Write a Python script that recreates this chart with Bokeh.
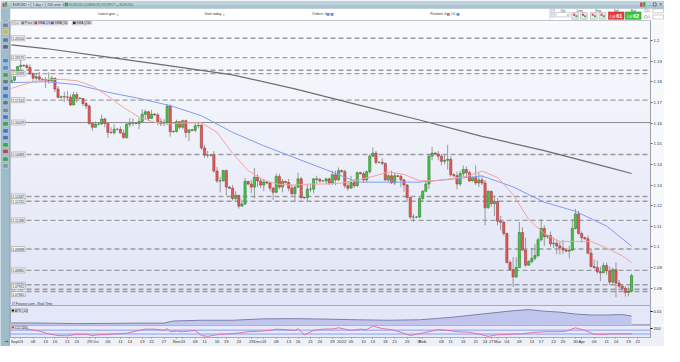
import numpy as np
import pandas as pd
from bokeh.plotting import figure
from bokeh.layouts import column, row
from bokeh.models import Range1d, FixedTicker, Span, Label, ColumnDataSource
from bokeh.embed import file_html
from bokeh.resources import INLINE
from bokeh.core.properties import value

FONT = "Liberation Sans"

# ---------------- data (EUR/USD, 1 day, Sunday candles included) ----------------
FIRST_OPEN = 1.1797
CLOSE = [
    1.1808, 1.1838, 1.1874, 1.1880,
    1.1878, 1.1870, 1.1840, 1.1818, 1.1825, 1.1813,
    1.1812, 1.1808, 1.1805, 1.1818, 1.1765, 1.1725,
    1.1728, 1.1727, 1.1726, 1.1688, 1.1738, 1.1720,
    1.1720, 1.1695, 1.1683, 1.1598, 1.1580, 1.1595,
    1.1596, 1.1620, 1.1598, 1.1555, 1.1553, 1.1570,
    1.1570, 1.1552, 1.1530, 1.1595, 1.1600, 1.1600,
    1.1598, 1.1608, 1.1643, 1.1655, 1.1623, 1.1644,
    1.1640, 1.1607, 1.1597, 1.1605, 1.1682, 1.1558,
    1.1560, 1.1607, 1.1580, 1.1612, 1.1555, 1.1568,
    1.1565, 1.1587, 1.1590, 1.1480, 1.1445, 1.1444,
    1.1445, 1.1368, 1.1320, 1.1320, 1.1370, 1.1290,
    1.1285, 1.1235, 1.1250, 1.1198, 1.1208, 1.1318,
    1.1305, 1.1290, 1.1338, 1.1320, 1.1300, 1.1315,
    1.1310, 1.1285, 1.1265, 1.1342, 1.1290, 1.1318,
    1.1312, 1.1285, 1.1258, 1.1290, 1.1330, 1.1238,
    1.1240, 1.1280, 1.1280, 1.1330, 1.1327, 1.1320,
    1.1320, 1.1330, 1.1310, 1.1350, 1.1325, 1.1370,
    1.1365, 1.1297, 1.1285, 1.1312, 1.1297, 1.1360,
    1.1355, 1.1325, 1.1365, 1.1440, 1.1455, 1.1410,
    1.1410, 1.1405, 1.1325, 1.1345, 1.1310, 1.1345,
    1.1342, 1.1325, 1.1300, 1.1240, 1.1145, 1.1145,
    1.1145, 1.1235, 1.1270, 1.1305, 1.1440, 1.1455,
    1.1450, 1.1440, 1.1415, 1.1420, 1.1425, 1.1350,
    1.1345, 1.1305, 1.1355, 1.1375, 1.1360, 1.1320,
    1.1335, 1.1310, 1.1325, 1.1310, 1.1190, 1.1270,
    1.1210, 1.1220, 1.1125, 1.1120, 1.1065, 1.0925,
    1.0890, 1.0855, 1.0900, 1.1070, 1.0985, 1.0912,
    1.0930, 1.0945, 1.0958, 1.1035, 1.1090, 1.1050,
    1.1055, 1.1015, 1.1018, 1.1005, 1.0995, 1.0985,
    1.0980, 1.0985, 1.1090, 1.1160, 1.1065, 1.1045,
    1.1040, 1.0970, 1.0905, 1.0900, 1.0880, 1.0875,
    1.0910, 1.0885, 1.0830, 1.0890, 1.0825, 1.0810,
    1.0800, 1.0780, 1.0785, 1.0861,
]
HIGH = [
    1.1842, 1.1857, 1.1877, 1.1909,
    1.1884, 1.1888, 1.1885, 1.1845, 1.1845, 1.1848,
    1.1818, 1.1823, 1.1846, 1.1830, 1.1820, 1.1780,
    1.1733, 1.1752, 1.1755, 1.1740, 1.1752, 1.1750,
    1.1726, 1.1719, 1.1705, 1.1690, 1.1605, 1.1608,
    1.1600, 1.1641, 1.1626, 1.1605, 1.1580, 1.1595,
    1.1575, 1.1583, 1.1570, 1.1600, 1.1624, 1.1623,
    1.1605, 1.1625, 1.1668, 1.1666, 1.1660, 1.1665,
    1.1648, 1.1650, 1.1625, 1.1620, 1.1693, 1.1690,
    1.1565, 1.1616, 1.1610, 1.1617, 1.1617, 1.1570,
    1.1572, 1.1600, 1.1608, 1.1595, 1.1495, 1.1465,
    1.1450, 1.1464, 1.1388, 1.1340, 1.1374, 1.1375,
    1.1295, 1.1300, 1.1270, 1.1250, 1.1230, 1.1335,
    1.1320, 1.1325, 1.1383, 1.1352, 1.1335, 1.1330,
    1.1318, 1.1316, 1.1290, 1.1355, 1.1355, 1.1330,
    1.1320, 1.1330, 1.1300, 1.1300, 1.1360, 1.1340,
    1.1245, 1.1305, 1.1305, 1.1335, 1.1345, 1.1335,
    1.1325, 1.1335, 1.1335, 1.1370, 1.1370, 1.1385,
    1.1375, 1.1375, 1.1320, 1.1345, 1.1330, 1.1365,
    1.1365, 1.1365, 1.1370, 1.1450, 1.1482, 1.1465,
    1.1415, 1.1430, 1.1410, 1.1355, 1.1370, 1.1360,
    1.1348, 1.1350, 1.1330, 1.1305, 1.1240, 1.1160,
    1.1150, 1.1240, 1.1275, 1.1315, 1.1450, 1.1485,
    1.1460, 1.1465, 1.1450, 1.1450, 1.1495, 1.1440,
    1.1358, 1.1365, 1.1370, 1.1395, 1.1390, 1.1370,
    1.1340, 1.1395, 1.1360, 1.1345, 1.1325, 1.1275,
    1.1272, 1.1250, 1.1235, 1.1150, 1.1125, 1.1070,
    1.0935, 1.0950, 1.0950, 1.1121, 1.1095, 1.1045,
    1.0935, 1.0995, 1.1015, 1.1045, 1.1135, 1.1105,
    1.1060, 1.1075, 1.1045, 1.1035, 1.1025, 1.1035,
    1.0990, 1.1005, 1.1135, 1.1185, 1.1175, 1.1075,
    1.1050, 1.1055, 1.0990, 1.0940, 1.0935, 1.0905,
    1.0925, 1.0925, 1.0905, 1.0900, 1.0925, 1.0840,
    1.0815, 1.0810, 1.0805, 1.0870,
]
LOW = [
    1.1794, 1.1800, 1.1835, 1.1858,
    1.1872, 1.1860, 1.1832, 1.1802, 1.1805, 1.1802,
    1.1806, 1.1770, 1.1792, 1.1800, 1.1750, 1.1720,
    1.1720, 1.1702, 1.1714, 1.1683, 1.1690, 1.1700,
    1.1716, 1.1681, 1.1668, 1.1593, 1.1563, 1.1580,
    1.1590, 1.1591, 1.1580, 1.1529, 1.1550, 1.1545,
    1.1565, 1.1550, 1.1524, 1.1525, 1.1580, 1.1585,
    1.1595, 1.1571, 1.1600, 1.1618, 1.1610, 1.1620,
    1.1636, 1.1590, 1.1585, 1.1585, 1.1590, 1.1535,
    1.1553, 1.1555, 1.1570, 1.1570, 1.1529, 1.1513,
    1.1560, 1.1555, 1.1575, 1.1470, 1.1432, 1.1432,
    1.1438, 1.1360, 1.1310, 1.1264, 1.1318, 1.1250,
    1.1280, 1.1225, 1.1226, 1.1186, 1.1195, 1.1205,
    1.1300, 1.1260, 1.1235, 1.1290, 1.1285, 1.1270,
    1.1305, 1.1270, 1.1228, 1.1260, 1.1280, 1.1265,
    1.1308, 1.1270, 1.1250, 1.1222, 1.1285, 1.1235,
    1.1232, 1.1220, 1.1265, 1.1260, 1.1305, 1.1310,
    1.1315, 1.1305, 1.1300, 1.1300, 1.1300, 1.1320,
    1.1360, 1.1285, 1.1272, 1.1285, 1.1285, 1.1290,
    1.1352, 1.1310, 1.1315, 1.1355, 1.1435, 1.1400,
    1.1405, 1.1395, 1.1320, 1.1315, 1.1305, 1.1300,
    1.1338, 1.1290, 1.1265, 1.1225, 1.1135, 1.1121,
    1.1140, 1.1140, 1.1220, 1.1265, 1.1280, 1.1420,
    1.1448, 1.1420, 1.1395, 1.1400, 1.1375, 1.1340,
    1.1340, 1.1280, 1.1295, 1.1340, 1.1340, 1.1315,
    1.1318, 1.1300, 1.1290, 1.1300, 1.1105, 1.1185,
    1.1195, 1.1150, 1.1105, 1.1080, 1.1055, 1.0920,
    1.0885, 1.0806, 1.0850, 1.0900, 1.0980, 1.0905,
    1.0910, 1.0920, 1.0935, 1.0950, 1.1025, 1.1005,
    1.1040, 1.1000, 1.0995, 1.0965, 1.0963, 1.0965,
    1.0975, 1.0945, 1.0980, 1.1085, 1.1060, 1.1020,
    1.1035, 1.0965, 1.0900, 1.0895, 1.0870, 1.0835,
    1.0875, 1.0865, 1.0815, 1.0820, 1.0757, 1.0800,
    1.0795, 1.0760, 1.0760, 1.0780,
]

# moving averages at candle indices
SMA20_IDX = [-1, 5, 10, 15, 20, 25, 30, 35, 40, 45, 50, 55, 60, 65, 70, 75, 80, 85, 90, 95, 100,
             105, 110, 115, 120, 125, 130, 135, 140, 145, 150, 155, 160, 165, 170, 175, 180, 185,
             190, 195, 198]
SMA20 = [1.17683, 1.17961, 1.18100, 1.18123, 1.18054, 1.17799, 1.17312, 1.16756, 1.16293, 1.16038,
         1.15968, 1.16015, 1.16015, 1.15552, 1.14532, 1.13698, 1.13235, 1.13026, 1.13003, 1.13049,
         1.13049, 1.13096, 1.13235, 1.13420, 1.13628, 1.13513, 1.13211, 1.13211, 1.13304, 1.13420,
         1.13675, 1.13373, 1.12539, 1.11335, 1.10640, 1.10269, 1.10269, 1.10269, 1.09944, 1.09574,
         1.09249]
SMA50_IDX = [-1, 10, 20, 30, 40, 50, 60, 70, 80, 90, 100, 110, 120, 130, 140, 150, 160, 170, 180, 190, 198]
SMA50 = [1.17961, 1.18007, 1.17868, 1.17498, 1.17197, 1.16849, 1.16358, 1.15552, 1.14903, 1.14319,
         1.13744, 1.13142, 1.13142, 1.13142, 1.13281, 1.13443, 1.12910, 1.12169, 1.11729, 1.11010,
         1.10037]
SMA200_IDX = [-1, 10, 30, 50, 70, 90, 110, 130, 150, 170, 190, 198]
SMA200 = [1.19791, 1.19615, 1.19194, 1.18777, 1.18336, 1.17660, 1.16895, 1.16154, 1.15361, 1.14671,
          1.13883, 1.13559]

# ATR (14) panel
ATR_IDX = [-1, 10, 20, 30, 40, 48, 51, 60, 70, 80, 90, 100, 110, 120, 130, 140, 150, 160, 165, 170,
           175, 180, 185, 190, 195, 198]
ATR = [0.00311, 0.00300, 0.00272, 0.00283, 0.00300, 0.00300, 0.00425, 0.00468, 0.00468, 0.00552,
       0.00563, 0.00535, 0.00496, 0.00468, 0.00496, 0.00636, 0.00832, 0.01028, 0.01095, 0.01000,
       0.00944, 0.00832, 0.00776, 0.00776, 0.00804, 0.00720]

# CCI (20) panel
CCI_IDX = [-1, 2, 5, 8, 11, 14, 17, 20, 23, 25, 27, 30, 33, 36, 39, 42, 45, 48, 49, 50, 52, 54, 58,
           60, 62, 66, 69, 72, 75, 79, 82, 84, 87, 90, 91, 93, 96, 99, 102, 104, 108, 111, 113, 115,
           118, 121, 124, 127, 129, 133, 136, 139, 142, 146, 150, 152, 155, 159, 163, 167, 171, 175,
           177, 180, 183, 186, 189, 192, 194, 198]
CCI = [288, 260, 128, 48, -88, -180, -192, -112, -112, -180, -140, -112, -88, -60, 48, 152, 152, 88,
       180, 20, 48, 20, 88, -180, -220, -112, -88, -48, 20, 48, 88, 152, 128, 88, 180, -140, 88, 152,
       160, 220, 88, 152, 128, 312, 180, 128, -8, -180, -112, 20, 128, 88, 20, -8, -140, -220, -140,
       -112, -88, -8, 20, 20, 48, 220, 88, -112, -112, -88, -88, -88.5]

# horizontal support / resistance levels
LEVELS = [1.20114, 1.19175, 1.18565, 1.18399, 1.17113, 1.16029, 1.14483, 1.12447, 1.12215,
          1.11288, 1.09898, 1.08865, 1.08170, 1.07952, 1.07845]
LEVEL_SOLID = [False, False, False, False, False, True, False, False, False,
               False, False, False, False, False, False]
LEVEL_LABELS = ["1.20114", "1.19175", "", "1.18399", "1.17113", "1.16029", "1.14483", "1.12447",
                "1.12215", "1.11288", "1.09898", "1.08865", "1.08170", "1.07952", "1.07845"]

# axis ticks
Y_TICKS = [1.08, 1.09, 1.10, 1.11, 1.12, 1.13, 1.14, 1.15, 1.16, 1.17, 1.18, 1.19, 1.20]
Y_TICK_LABELS = ["1.08", "1.09", "1.1", "1.11", "1.12", "1.13", "1.14", "1.15", "1.16", "1.17",
                 "1.18", "1.19", "1.2"]
X_TICK_DATES = ["2021-09-01", "2021-09-03", "2021-09-08", "2021-09-13", "2021-09-16", "2021-09-21",
                "2021-09-24", "2021-09-29",
                "2021-10-01", "2021-10-06", "2021-10-11", "2021-10-14", "2021-10-19", "2021-10-22",
                "2021-10-27",
                "2021-11-01", "2021-11-03", "2021-11-08", "2021-11-11", "2021-11-16", "2021-11-19",
                "2021-11-24", "2021-11-29",
                "2021-12-01", "2021-12-03", "2021-12-08", "2021-12-13", "2021-12-16", "2021-12-21",
                "2021-12-24", "2021-12-29",
                "2022-01-02", "2022-01-05", "2022-01-10", "2022-01-13", "2022-01-18", "2022-01-21",
                "2022-01-26", "2022-01-31",
                "2022-02-01", "2022-02-08", "2022-02-11", "2022-02-16", "2022-02-21", "2022-02-24",
                "2022-02-27",
                "2022-03-01", "2022-03-04", "2022-03-09", "2022-03-14", "2022-03-17", "2022-03-22",
                "2022-03-25", "2022-03-30",
                "2022-04-01", "2022-04-06", "2022-04-11", "2022-04-14", "2022-04-19", "2022-04-22"]
X_TICK_LABELS = ["Sep", "03", "08", "13", "16", "21", "24", "29",
                 "Oct", "06", "11", "14", "19", "22", "27",
                 "Nov", "03", "08", "11", "16", "19", "24", "29",
                 "Dec", "03", "08", "13", "16", "21", "24", "29",
                 "2022", "05", "10", "13", "18", "21", "26", "31",
                 "Feb", "08", "11", "16", "21", "24", "27",
                 "Mar", "04", "09", "14", "17", "22", "25", "30",
                 "Apr", "06", "11", "14", "19", "22"]

# ---------------- geometry helpers (reference pixel -> data) ----------------
def XI(px):
    return (px - 14.0) / 3.19

def YP(py):
    return 1.2 - (py - 42.0) / 2158.0

def YA(py):
    return 0.01 - (py - 325.0) / 1786.0

def YC(py):
    return (348.5 - py) * 40.0

# candle index: calendar without Saturdays, first candle = Aug 31 -> index -1
AXIS_DATES = [d for d in pd.date_range("2021-08-31", "2022-04-30", freq="D") if d.weekday() != 5]
POS = {d.strftime("%Y-%m-%d"): k - 1 for k, d in enumerate(AXIS_DATES)}

GREEN, GREEN_EDGE = "#46c646", "#2b7f2b"
RED, RED_EDGE = "#e25a5a", "#a53a3a"
WICK = "#8f8f8f"


def txt(fig, x, y, s, size, color="#333333", align="left", baseline="middle", style="normal"):
    fig.text(x=[x], y=[y], text=[s], text_font=value(FONT), text_font_size=size,
             text_color=color, text_align=align, text_baseline=baseline, text_font_style=style)


def box(fig, l, r, t, b, fill, line=None, lw=0.5):
    fig.quad(left=[l], right=[r], top=[t], bottom=[b], fill_color=fill,
             line_color=line, line_width=lw)


def bare(fig):
    fig.grid.visible = False
    fig.outline_line_color = None


# ---------------- header (title bar + order bar) ----------------
hdr = figure(width=664, height=20, x_range=Range1d(0, 680), y_range=Range1d(21, 0),
             output_backend="svg", toolbar_location=None, x_axis_location=None,
             y_axis_location=None, min_border=0)
bare(hdr)
hdr.background_fill_color = "#ffffff"
hdr.border_fill_color = "#ffffff"
box(hdr, 0, 680, 0, 4, "#bfd3de")
box(hdr, 0, 680, 4, 8.2, "#acc5d3")
hdr.line(x=[0, 680], y=[8.2, 8.2], line_color="#8ea9b9", line_width=0.6)
box(hdr, 0, 10, 8.2, 21, "#9fbccb")
hdr.line(x=[10, 680], y=[20.8, 20.8], line_color="#c9ced8", line_width=0.6)
# app icon
box(hdr, 2.2, 4.2, 2.5, 6.5, "#d94040")
box(hdr, 4.8, 6.8, 1.5, 6.5, "#3cb043")
# tabs
for (x0, x1, s) in [(11, 30.5, "EURUSD  \u00d7"), (31.5, 45.5, "1 day  \u00d7"),
                    (46.5, 64.5, "200 units  \u00d7")]:
    box(hdr, x0, x1, 1.4, 6.9, "#d2e0e8", "#8aa3b3", 0.5)
    txt(hdr, x0 + 1.5, 4.2, s, "3.3px", "#223")
box(hdr, 66, 69, 2.6, 5.6, "#3cb043", "#2a7a2a", 0.4)
txt(hdr, 70.5, 4.2, "EURUSD (US$/EUR)  FX/SPOT  \u25b8 EURUSD", "3.3px", "#2d8a2d")
# window buttons
box(hdr, 655, 657.5, 2, 6.5, "#d94040")
box(hdr, 658, 660.5, 1.5, 6.5, "#3cb043")
txt(hdr, 665, 4.2, "\u2013", "4px", "#334", "center")
box(hdr, 668.5, 671.5, 2.5, 5.8, None, "#334", 0.5)
txt(hdr, 676, 4.2, "\u00d7", "4.5px", "#334", "center")
# order bar texts
txt(hdr, 100, 14.5, "Latest gain", "3.5px", "#333")
txt(hdr, 119, 14.5, "\u25be", "3px", "#666")
txt(hdr, 209, 14.5, "Gain today", "3.5px", "#333")
txt(hdr, 228, 14.5, "\u25be", "3px", "#666")
txt(hdr, 319, 14.5, "Orders: 0", "3.5px", "#333")
box(hdr, 334, 337, 13, 16, "#5b8fd6")
box(hdr, 338, 341, 13, 16, "#5b8fd6")
txt(hdr, 440, 14.5, "Position: 0", "3.5px", "#333")
box(hdr, 457, 460, 13, 16, "#e06a6a")
txt(hdr, 461.5, 14.5, "/ 0", "3.5px", "#333")
box(hdr, 467, 470, 13, 16, "#5b8fd6")
# trade ticket
hdr.line(x=[562.5, 562.5], y=[8.5, 20.5], line_color="#c6cad2", line_width=0.6)
box(hdr, 563.5, 567.5, 9.5, 13, "#e8eaee", "#9aa0aa", 0.4)
box(hdr, 563.5, 567.5, 14, 17.5, "#e8eaee", "#9aa0aa", 0.4)
txt(hdr, 576, 10.3, "Qty", "3px", "#444", "center")
box(hdr, 569, 583, 12.6, 17.2, "#ffffff", "#9aa0aa", 0.5)
txt(hdr, 581.5, 15, "\u25be", "2.8px", "#555", "center")
txt(hdr, 593, 10.3, "Limit", "3px", "#444", "center")
txt(hdr, 612, 10.3, "Stop", "3px", "#444", "center")
for x0 in (585, 594, 604, 613):
    box(hdr, x0, x0 + 7, 12.6, 19.6, "#e4e7ec", "#a0a5ae", 0.5)
    box(hdr, x0 + 1.5, x0 + 3.5, 14, 16, "#d94040")
    box(hdr, x0 + 3.8, x0 + 5.8, 15.5, 17.5, "#3cb043")
txt(hdr, 630.5, 10.3, "Sell", "3px", "#444", "center")
txt(hdr, 648, 10.3, "Buy", "3px", "#444", "center")
box(hdr, 622.5, 638.5, 12, 19.8, "#e5403d", "#b02a28", 0.5)
txt(hdr, 624, 16.8, "1.08", "2.8px", "#ffffff")
txt(hdr, 630.5, 16, "61", "5.5px", "#ffffff", style="bold")
box(hdr, 639.8, 656, 12, 19.8, "#3fc33f", "#2a8a2a", 0.5)
txt(hdr, 641.3, 16.8, "1.08", "2.8px", "#ffffff")
txt(hdr, 647.8, 16, "62", "5.5px", "#ffffff", style="bold")
hdr.scatter(x=[661, 661], y=[10.5, 17.3], size=3, marker="circle", fill_color="#ffffff",
            line_color="#778", line_width=0.5)
txt(hdr, 663.5, 10.5, "L", "3px", "#333")
txt(hdr, 663.5, 17.3, "L", "3px", "#333")
box(hdr, 668, 679, 8.8, 13, "#ffffff", "#9aa0aa", 0.5)
box(hdr, 668, 679, 15.2, 19.5, "#ffffff", "#9aa0aa", 0.5)

# ---------------- left tool strip ----------------
ICON_Y = [14, 19.5, 26, 33, 41.5, 48.5, 63, 70.5, 78, 85, 92, 100, 107, 115, 122, 129, 136.5,
          143.5, 151, 158, 166, 173]
ICON_COLORS = ["#5a6e80", "#3a66c0", "#6b7884", "#e0b21e", "#5e6e7e", "#4d6070", "#3a7ad0",
               "#4a80c8", "#3c9c3c", "#5e6e7e", "#3a66c0", "#2c6cd0", "#5e6e7e", "#6f7f90",
               "#3a66c0", "#2f9f2f", "#3a66c0", "#3a66c0", "#2f9f2f", "#c03434", "#2f9f2f",
               "#7f8fa0"]
tb = figure(width=10, height=326, x_range=Range1d(0, 10), y_range=Range1d(362, 21),
            output_backend="svg", toolbar_location=None, x_axis_location=None,
            y_axis_location=None, min_border=0)
bare(tb)
tb.background_fill_color = "#9fbccb"
tb.border_fill_color = "#9fbccb"
tb.line(x=[9.6, 9.6], y=[21, 362], line_color="#7e9bac", line_width=0.8)
tb.rect(x=[5] * len(ICON_Y), y=ICON_Y, width=5.5, height=4.5, fill_color=ICON_COLORS,
        fill_alpha=0.85, line_color="#e8f0f4", line_width=0.4)
txt(tb, 5, 356, "\u22a3", "5px", "#334", "center")

# ---------------- main price panel ----------------
xr = Range1d(XI(10), XI(665))
main = figure(width=654, height=285, x_range=xr, y_range=Range1d(YP(319), YP(21)),
              output_backend="svg", toolbar_location=None, x_axis_location=None,
              y_axis_location="right", min_border=0, min_border_right=14)
main.grid.visible = False
main.outline_line_color = "#aeb2bf"
main.border_fill_color = "#f7f8fc"
main.background_fill_color = "#eef0fa"

# subtle vertical background gradient
N = 96
img = np.empty((N, 1), dtype=np.uint32)
view = img.view(dtype=np.uint8).reshape((N, 1, 4))
c_bot = np.array([225, 229, 246], dtype=float)
c_top = np.array([249, 250, 254], dtype=float)
for k in range(N):
    t = k / (N - 1)
    view[k, 0, :3] = (c_bot * (1 - t) + c_top * t).astype(np.uint8)
    view[k, 0, 3] = 255
main.image_rgba(image=[img], x=xr.start, y=YP(319), dw=xr.end - xr.start,
                dh=YP(21) - YP(319), level="image")

for lv, solid in zip(LEVELS, LEVEL_SOLID):
    if solid:
        main.add_layout(Span(location=lv, dimension="width", line_color="#8d8d8d",
                             line_width=1.0, level="underlay"))
    else:
        main.add_layout(Span(location=lv, dimension="width", line_color="#9c9c9c",
                             line_width=1.4, line_dash="5 3", level="underlay"))

idx = np.arange(len(CLOSE)) - 1
o = np.array([FIRST_OPEN] + CLOSE[:-1])
c = np.array(CLOSE)
up = c >= o
src = ColumnDataSource(dict(
    x=idx, top=np.maximum(o, c), bottom=np.minimum(o, c), h=np.array(HIGH), l=np.array(LOW),
    fill=np.where(up, GREEN, RED), edge=np.where(up, GREEN_EDGE, RED_EDGE)))
main.segment(x0="x", y0="h", x1="x", y1="l", source=src, line_color=WICK, line_width=0.9)
main.vbar(x="x", top="top", bottom="bottom", width=0.7, fill_color="fill", line_color="edge",
          line_width=0.6, source=src)

main.line(SMA200_IDX, SMA200, line_color="#6e6e6e", line_width=1.2)
main.line(SMA50_IDX, SMA50, line_color="#7f9cf2", line_width=1.0)
main.line(SMA20_IDX, SMA20, line_color="#f1a3a0", line_width=1.0)

ax = main.yaxis[0]
ax.ticker = FixedTicker(ticks=Y_TICKS)
ax.major_label_overrides = {t: s for t, s in zip(Y_TICKS, Y_TICK_LABELS)}
ax.major_label_text_font = FONT
ax.major_label_text_font_size = "4.3px"
ax.major_label_text_color = "#333333"
ax.major_label_standoff = 1
ax.major_tick_out = 2
ax.major_tick_in = 0
ax.minor_tick_line_color = None
ax.axis_line_color = "#9ca1ad"
ax.major_tick_line_color = "#666666"

# level labels on the left edge (the two lowest, nearly coincident levels are nudged apart)
for k, (lv, s) in enumerate(zip(LEVELS, LEVEL_LABELS)):
    if not s:
        continue
    off = 0
    if k == len(LEVELS) - 2:
        off = 2.6
    elif k == len(LEVELS) - 1:
        off = -2.6
    main.add_layout(Label(x=XI(10.8), y=lv, y_offset=off, text=s, text_font=FONT,
                          text_font_size="3.3px", text_color="#333333", text_baseline="middle",
                          background_fill_color="#f4f4f7", border_line_color="#8e8e96",
                          border_line_width=0.5, padding=1))

# legend row
LEG = [(20.5, 33.2, GREEN, "Price"), (33.8, 50.2, "#e04848", "SMA (20)"),
       (50.8, 67.2, "#3a5ae6", "SMA (50)"), (73.2, 90.5, "#202020", "SMA (200)")]
box(main, XI(10.6), XI(14.2), YP(21.4), YP(25.6), "#e6e6ea", "#a8a8b0", 0.5)
txt(main, XI(12.4), YP(23.5), "\u00d7", "3.6px", "#c04040", "center")
box(main, XI(14.8), XI(18.8), YP(21.4), YP(25.6), "#e6e6ea", "#a8a8b0", 0.5)
txt(main, XI(16.8), YP(23.5), "+", "3.6px", "#3050c0", "center")
for (x0, x1, col, s) in LEG:
    box(main, XI(x0), XI(x1), YP(21.4), YP(25.6), "#e8e8ec", "#a8a8b0", 0.5)
    box(main, XI(x0 + 0.8), XI(x0 + 3.3), YP(22.3), YP(24.7), col, "#555555", 0.3)
    txt(main, XI(x0 + 4.2), YP(23.5), s, "3.3px", "#222222")

txt(main, XI(11.5), YP(317.6), "IT Finance.com - Real Time", "3.3px", "#333333")

# value tags on the price axis
TAGS = [(SMA200[-1], "1.13559", "#c9c9cc", "#222222", "#8f8f96"),
        (SMA50[-1], "1.10037", "#cdd7fb", "#2040c0", "#6f8ae8"),
        (YP(286.3), "1.08603", "#f2e33c", "#222222", "#b8a820"),
        (YP(291.0), "1.08524", "#5fd35f", "#114411", "#2f9a2f")]
for (yv, s, bg, fg, bd) in TAGS:
    main.add_layout(Label(x=XI(665.6), y=yv, text=s, text_font=FONT, text_font_size="3.6px",
                          text_color=fg, text_baseline="middle", background_fill_color=bg,
                          border_line_color=bd, border_line_width=0.5, padding=1))

# ---------------- ATR panel ----------------
atr = figure(width=654, height=20, x_range=xr, y_range=Range1d(YA(340), YA(319)),
             output_backend="svg", toolbar_location=None, x_axis_location=None,
             y_axis_location="right", min_border=0, min_border_right=14)
atr.grid.visible = False
atr.outline_line_color = "#a6aab8"
atr.background_fill_color = "#e4e7f7"
atr.border_fill_color = "#f3f4fa"
atr.varea(x=ATR_IDX, y1=[YA(342)] * len(ATR_IDX), y2=ATR, fill_color="#c2c6ee")
atr.line(ATR_IDX, ATR, line_color="#7b81ab", line_width=1.0)
a2 = atr.yaxis[0]
a2.ticker = FixedTicker(ticks=[0.01])
a2.major_label_overrides = {0.01: "0.01"}
a2.major_label_text_font = FONT
a2.major_label_text_font_size = "4.2px"
a2.major_label_text_color = "#333333"
a2.major_label_standoff = 1
a2.major_tick_out = 2
a2.major_tick_in = 0
a2.minor_tick_line_color = None
a2.axis_line_color = "#9ca1ad"
box(atr, XI(10.6), XI(27.5), YA(322.2), YA(326.2), "#e8e8ec", "#a8a8b0", 0.5)
box(atr, XI(11.3), XI(13.6), YA(323.1), YA(325.3), "#111111")
txt(atr, XI(14.4), YA(324.2), "ATR (14)", "3.3px", "#222222")
atr.add_layout(Label(x=XI(665.6), y=ATR[-1], text="0.00720", text_font=FONT,
                     text_font_size="3.6px", text_color="#222222", text_baseline="middle",
                     background_fill_color="#cfcfd4", border_line_color="#8f8f96",
                     border_line_width=0.5, padding=1))

# ---------------- CCI panel + date axis ----------------
cci = figure(width=654, height=21, x_range=xr, y_range=Range1d(YC(355.5), YC(340)),
             output_backend="svg", toolbar_location=None, x_axis_location="below",
             y_axis_location="right", min_border=0, min_border_right=14)
cci.grid.visible = False
cci.outline_line_color = "#b0b4c2"
cci.background_fill_color = "#e7eaf8"
cci.border_fill_color = "#eef0f8"
for lvl in (100, -100):
    cci.add_layout(Span(location=lvl, dimension="width", line_color="#8e9ef2", line_width=1.0,
                        level="underlay"))
cci.line(CCI_IDX, CCI, line_color="#e6649e", line_width=0.9)
c2 = cci.yaxis[0]
c2.ticker = FixedTicker(ticks=[200])
c2.major_label_overrides = {200: "200"}
c2.major_label_text_font = FONT
c2.major_label_text_font_size = "4.2px"
c2.major_label_text_color = "#333333"
c2.major_label_standoff = 1
c2.major_tick_out = 2
c2.major_tick_in = 0
c2.minor_tick_line_color = None
c2.axis_line_color = "#9ca1ad"
xt = [float(POS[d]) for d in X_TICK_DATES]
xa = cci.xaxis[0]
xa.ticker = FixedTicker(ticks=xt)
xa.major_label_overrides = {t: s for t, s in zip(xt, X_TICK_LABELS)}
xa.major_label_text_font = FONT
xa.major_label_text_font_size = "4.2px"
xa.major_label_text_color = "#333333"
xa.major_label_standoff = 0
xa.major_tick_out = 1
xa.major_tick_in = 0
xa.minor_tick_line_color = None
xa.axis_line_color = "#a8acb8"
xa.major_tick_line_color = "#888888"
box(cci, XI(10.6), XI(27.5), YC(340.6), YC(344.4), "#e8e8ec", "#a8a8b0", 0.5)
box(cci, XI(11.3), XI(13.6), YC(341.4), YC(343.6), "#e03030")
txt(cci, XI(14.4), YC(342.5), "CCI (20)", "3.3px", "#222222")
cci.add_layout(Label(x=XI(665.6), y=CCI[-1], text="-88.513", text_font=FONT,
                     text_font_size="3.6px", text_color="#d02020", text_baseline="middle",
                     background_fill_color="#f9d3da", border_line_color="#e06070",
                     border_line_width=0.5, padding=1))

layout = column(hdr, row(tb, column(main, atr, cci)))
open("out.html", "w").write(file_html(layout, INLINE))
